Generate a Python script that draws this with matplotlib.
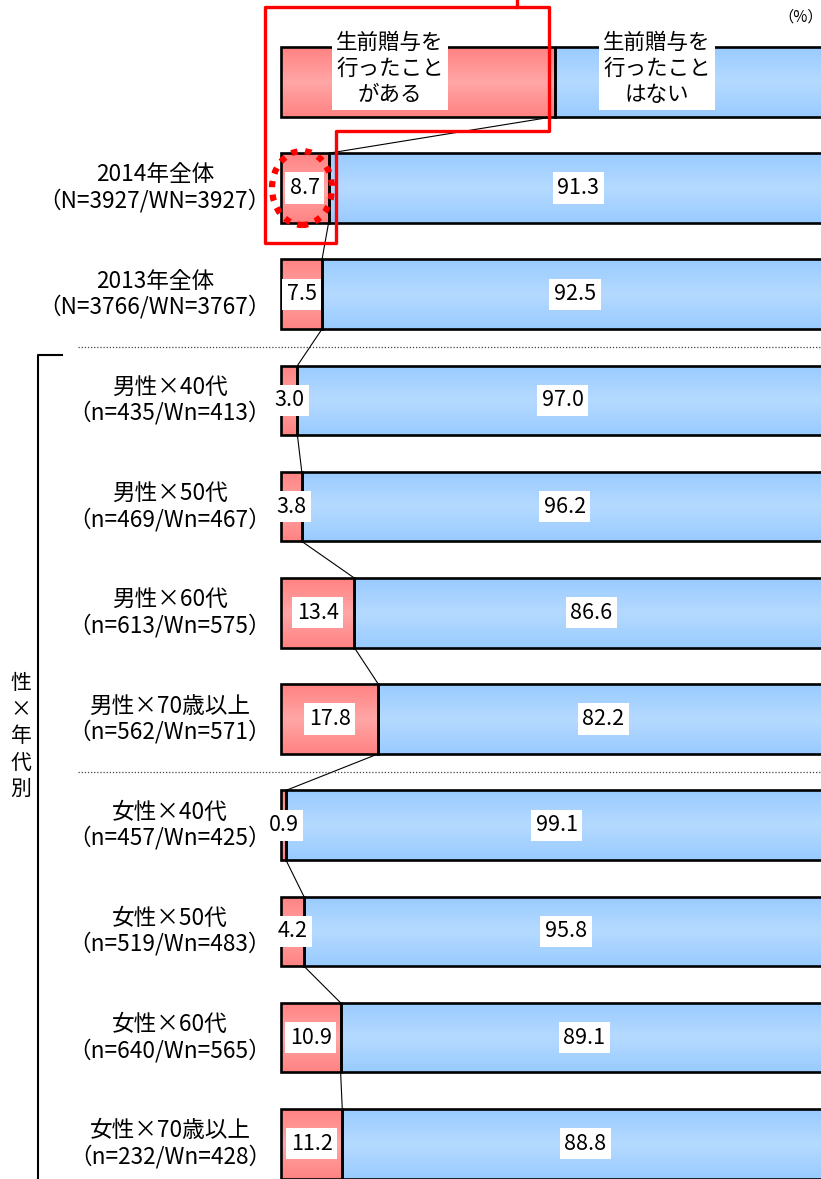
import numpy as np
import matplotlib.pyplot as plt
from matplotlib.colors import LinearSegmentedColormap
from matplotlib.patches import Ellipse

plt.rcParams['font.family'] = ['Noto Sans CJK JP', 'DejaVu Sans']

# data
labels = ['2014年全体', '2013年全体',
          '男性×40代', '男性×50代', '男性×60代', '男性×70歳以上',
          '女性×40代', '女性×50代', '女性×60代', '女性×70歳以上']
sizes = ['（N=3927/WN=3927）', '（N=3766/WN=3767）',
         '（n=435/Wn=413）', '（n=469/Wn=467）', '（n=613/Wn=575）', '（n=562/Wn=571）',
         '（n=457/Wn=425）', '（n=519/Wn=483）', '（n=640/Wn=565）', '（n=232/Wn=428）']
gave = [8.7, 7.5, 3.0, 3.8, 13.4, 17.8, 0.9, 4.2, 10.9, 11.2]
not_gave = [91.3, 92.5, 97.0, 96.2, 86.6, 82.2, 99.1, 95.8, 89.1, 88.8]
legend_names = ['生前贈与を\n行ったこと\nがある', '生前贈与を\n行ったこと\nはない']

W, H = 821, 1179
fig = plt.figure(figsize=(W / 100, H / 100), dpi=100)
ax = fig.add_axes([0, 0, 1, 1])
ax.axis('off')

x0px, ppp = 281, 5.47          # pixel of 0 %, pixels per %
row0px, rowpx = 188, 106.2     # pixel of first row, row spacing
xlim = (-x0px / ppp, (W - x0px) / ppp)
ylim = ((H - row0px) / rowpx, -row0px / rowpx)


def fp(x, y):
    # pixel position -> figure fraction (for decorations)
    return x / W, 1 - y / H


red_cmap = LinearSegmentedColormap.from_list('r', ['#FF8282', '#FFA6A6', '#FF8282'])
blue_cmap = LinearSegmentedColormap.from_list('b', ['#99CBFF', '#B5DAFF', '#99CBFF'])
grad = np.linspace(0, 1, 100).reshape(-1, 1)

rows = np.arange(len(labels))
bh = 0.655

# legend row (-1) + data rows
all_rows = np.concatenate([[-1], rows])
all_red = np.array([50] + gave)
all_blue = np.array([50] + not_gave)

red_bars = ax.barh(all_rows, all_red, height=bh, color='none', edgecolor='black', linewidth=1.9, zorder=3)
blue_bars = ax.barh(all_rows, all_blue, left=all_red, height=bh, color='none', edgecolor='black',
                    linewidth=1.9, zorder=3)
for bars, cmap in ((red_bars, red_cmap), (blue_bars, blue_cmap)):
    for p in bars:
        x, y, w, h = p.get_x(), p.get_y(), p.get_width(), p.get_height()
        im = ax.imshow(grad, cmap=cmap, aspect='auto', extent=[x, x + w, y + h, y], zorder=2)
        im.set_clip_path(p)

# connecting lines between red/blue boundaries
for i in range(len(all_rows) - 1):
    ax.plot([all_red[i], all_red[i + 1]], [all_rows[i] + bh / 2, all_rows[i + 1] - bh / 2],
            color='black', lw=0.8, zorder=1)

# value labels
box = dict(facecolor='white', edgecolor='none', pad=3.2)
for r, g, n in zip(rows, gave, not_gave):
    ax.text(g / 2, r, f'{g:.1f}', ha='center', va='center', fontsize=15.5, bbox=box, zorder=5)
    ax.text(g + (100 - g) / 2, r, f'{n:.1f}', ha='center', va='center', fontsize=15.5, bbox=box, zorder=5)

# legend texts
for name, cx in zip(legend_names, (390, 657)):
    fx, fy = fp(cx, 69)
    fig.text(fx, fy, name, ha='center', va='center', fontsize=15.5, linespacing=1.22,
             bbox=dict(facecolor='white', edgecolor='none', pad=3), zorder=6)

# row labels
for r, lab, sz in zip(rows, labels, sizes):
    fx, fy = fp(271, row0px + rowpx * r)
    fig.text(fx, fy, lab + '\n' + sz, ha='right', va='center', multialignment='center',
             fontsize=16.3, linespacing=1.12)

# dotted separators
for yy in (1.5, 5.5):
    ax.plot([(78 - x0px) / ppp, xlim[1]], [yy, yy], color='#444444', lw=0.9, ls=(0, (1, 1.5)))

# bracket for 性×年代別
bx = [fp(62, 355), fp(38, 355), fp(38, H)]
fig.add_artist(plt.Line2D([p[0] for p in bx], [p[1] for p in bx], color='black', lw=1.5))
for k, ch in enumerate('性×年代別'):
    fx, fy = fp(21, 683 + 26.5 * k)
    fig.text(fx, fy, ch, ha='center', va='center', fontsize=15)

# percent note
fx, fy = fp(801, 17)
fig.text(fx, fy, '（%）', ha='center', va='center', fontsize=11)

# red highlight frame
frame = [(517, 0), (517, 7), (265, 7), (265, 243), (336, 243), (336, 131), (549, 131), (549, 7), (517, 7)]
fig.add_artist(plt.Line2D([fp(*p)[0] for p in frame], [fp(*p)[1] for p in frame],
                          color='#FF0000', lw=2.4, zorder=7))
ell = Ellipse(fp(302, 188), 60 / W, 74 / H, transform=fig.transFigure, fill=False,
              edgecolor='#FF0000', lw=4.5, ls=(0, (1, 1.2)), zorder=7)
fig.add_artist(ell)

ax.set_xlim(*xlim)
ax.set_ylim(*ylim)

plt.savefig('out.png', dpi=100)
